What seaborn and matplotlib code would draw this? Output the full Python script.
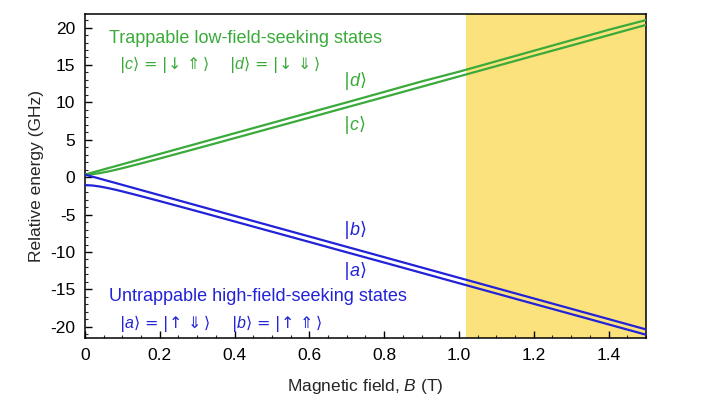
import matplotlib
matplotlib.use("Agg")
import matplotlib.pyplot as plt
from matplotlib.ticker import MultipleLocator
import seaborn as sns
import pandas as pd

# campo magnetico (T) e energias (GHz)
campo_B = [0, 0.02, 0.04, 0.06, 0.08, 0.1, 0.15, 0.2, 0.3, 0.4, 0.5,
           0.6, 0.7, 0.8, 0.9, 1.0, 1.1, 1.2, 1.3, 1.4, 1.5]
estado_d = [0.35, 0.63, 0.90, 1.18, 1.45, 1.73, 2.42, 3.11, 4.49, 5.87, 7.25,
            8.63, 10.0, 11.4, 12.8, 14.1, 15.5, 16.9, 18.3, 19.7, 21.0]
estado_c = [0.36, 0.41, 0.55, 0.74, 0.96, 1.20, 1.84, 2.50, 3.85, 5.22, 6.59,
            7.96, 9.34, 10.71, 12.09, 13.47, 14.85, 16.23, 17.60, 18.98, 20.36]
estado_b = [0.35, 0.07, -0.20, -0.48, -0.75, -1.03, -1.72, -2.41, -3.79, -5.17, -6.55,
            -7.93, -9.31, -10.69, -12.07, -13.45, -14.83, -16.21, -17.59, -18.97, -20.35]
estado_a = [-1.06, -1.11, -1.25, -1.44, -1.66, -1.90, -2.54, -3.20, -4.55, -5.92, -7.29,
            -8.66, -10.04, -11.41, -12.79, -14.17, -15.55, -16.93, -18.30, -19.68, -21.06]

inicio_faixa = 1.02  # inicio da regiao amarela
fim_faixa = 1.5

verde = "#3aaa3a"
azul = "#2222d8"
amarelo = "#fbe27c"

sns.set_style("ticks")
plt.rcParams["font.family"] = ["Liberation Sans", "DejaVu Sans"]
plt.rcParams["axes.unicode_minus"] = False
plt.rcParams["mathtext.fontset"] = "custom"
plt.rcParams["mathtext.rm"] = "DejaVu Sans"
plt.rcParams["mathtext.it"] = "Liberation Sans:italic"
plt.rcParams["mathtext.fallback"] = "cm"

df = pd.concat([
    pd.DataFrame({"B": campo_B, "E": estado_d, "estado": "d"}),
    pd.DataFrame({"B": campo_B, "E": estado_c, "estado": "c"}),
    pd.DataFrame({"B": campo_B, "E": estado_b, "estado": "b"}),
    pd.DataFrame({"B": campo_B, "E": estado_a, "estado": "a"}),
], ignore_index=True)

cores = {"d": verde, "c": verde, "b": azul, "a": azul}

fig = plt.figure(figsize=(7.04, 4.15), dpi=100)
ax = fig.add_axes([0.1207, 0.1855, 0.7969, 0.7805])

ax.axvspan(inicio_faixa, fim_faixa, color=amarelo, lw=0, zorder=0)
sns.lineplot(data=df, x="B", y="E", hue="estado", palette=cores,
             linewidth=1.6, legend=False, ax=ax, zorder=3)

ax.set_xlim(0, 1.5)
ax.set_ylim(-21.5, 21.8)
ax.xaxis.set_major_locator(MultipleLocator(0.2))
ax.xaxis.set_minor_locator(MultipleLocator(0.05))
ax.yaxis.set_major_locator(MultipleLocator(5))
ax.yaxis.set_minor_locator(MultipleLocator(1))
ax.set_xticks([0, 0.2, 0.4, 0.6, 0.8, 1.0, 1.2, 1.4])
ax.set_xticklabels(["0", "0.2", "0.4", "0.6", "0.8", "1.0", "1.2", "1.4"])
ax.tick_params(which="major", direction="in", length=5, width=1,
               labelsize=12.5, colors="black", pad=7)
ax.tick_params(which="minor", direction="in", length=2.5, width=0.8)
for s in ax.spines.values():
    s.set_color("black")
    s.set_linewidth(1.1)

ax.set_xlabel("Magnetic field, $\\it{B}$ (T)", fontsize=12.5, labelpad=10)
ax.set_ylabel("Relative energy (GHz)", fontsize=12.5, labelpad=4)

fs = 13
fs2 = 11.5
ax.text(0.065, 18.6, "Trappable low-field-seeking states", color=verde,
        fontsize=fs, va="center")
ax.text(0.09, 15.0, r"$|c\rangle\,{=}\,|\!\downarrow\Uparrow\rangle$", color=verde,
        fontsize=fs2, va="center")
ax.text(0.385, 15.0, r"$|d\rangle\,{=}\,|\!\downarrow\Downarrow\rangle$", color=verde,
        fontsize=fs2, va="center")
ax.text(0.065, -15.9, "Untrappable high-field-seeking states", color=azul,
        fontsize=fs, va="center")
ax.text(0.09, -19.6, r"$|a\rangle\,{=}\,|\!\uparrow\Downarrow\rangle$", color=azul,
        fontsize=fs2, va="center")
ax.text(0.39, -19.6, r"$|b\rangle\,{=}\,|\!\uparrow\Uparrow\rangle$", color=azul,
        fontsize=fs2, va="center")

ax.text(0.72, 12.8, r"$|d\rangle$", color=verde, fontsize=fs, ha="center", va="center")
ax.text(0.72, 7.0, r"$|c\rangle$", color=verde, fontsize=fs, ha="center", va="center")
ax.text(0.72, -7.0, r"$|b\rangle$", color=azul, fontsize=fs, ha="center", va="center")
ax.text(0.72, -12.6, r"$|a\rangle$", color=azul, fontsize=fs, ha="center", va="center")

fig.savefig("out.png", dpi=100)
